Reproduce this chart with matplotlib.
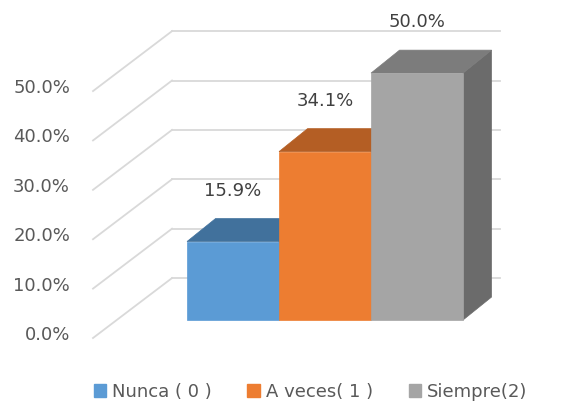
import matplotlib
matplotlib.use("Agg")
import matplotlib.pyplot as plt
from matplotlib.patches import Polygon, Patch

categories = ["Nunca ( 0 )", "A veces( 1 )", "Siempre(2)"]
values = [15.9, 34.1, 50.0]
value_labels = ["15.9%", "34.1%", "50.0%"]
tick_values = [0, 10, 20, 30, 40, 50]
tick_labels = ["0.0%", "10.0%", "20.0%", "30.0%", "40.0%", "50.0%"]

front_colors = ["#5B9BD5", "#ED7D31", "#A5A5A5"]
top_colors = ["#41719C", "#B45E24", "#7C7C7C"]
side_colors = ["#3F6E98", "#A9561F", "#6B6B6B"]

fig = plt.figure(figsize=(5.78, 4.03), dpi=100)
ax = fig.add_axes([0, 0, 1, 1])
ax.set_xlim(-2.533, 3.75)
ax.set_ylim(-16.8, 64.8)
ax.axis("off")

# 3D geometry (in data units)
dx, dy = 0.31, 4.65           # bar depth
front_off, back_off = -3.64, 8.5  # wall gridline offsets
x_front, x_back, x_right = -1.522, -0.663, 2.90

grid_c = "#D9D9D9"
for v in tick_values:
    ax.plot([x_front, x_back], [v + front_off, v + back_off], color=grid_c, lw=1.3, zorder=1)
    ax.plot([x_back, x_right], [v + back_off, v + back_off], color=grid_c, lw=1.3, zorder=1)

for i, v in enumerate(values):
    l, r = i - 0.5, i + 0.5
    side = Polygon([(r, 0), (r, v), (r + dx, v + dy), (r + dx, dy)], closed=True,
                   facecolor=side_colors[i], edgecolor=side_colors[i], lw=0.5, zorder=2 + i)
    top = Polygon([(l, v), (r, v), (r + dx, v + dy), (l + dx, v + dy)], closed=True,
                  facecolor=top_colors[i], edgecolor=top_colors[i], lw=0.5, zorder=2 + i)
    front = Polygon([(l, 0), (r, 0), (r, v), (l, v)], closed=True,
                    facecolor=front_colors[i], edgecolor=front_colors[i], lw=0.5, zorder=2 + i)
    for p in (side, top, front):
        ax.add_patch(p)
    ax.text(i, v + 10.3, value_labels[i], ha="center", va="center",
            fontsize=13, color="#404040", zorder=10)

for v, lab in zip(tick_values, tick_labels):
    ax.text(-1.772, v + front_off + 0.6, lab, ha="right", va="center",
            fontsize=13, color="#595959")

handles = [Patch(facecolor=c, edgecolor=c) for c in front_colors]
fig.legend(handles, categories, loc="center", bbox_to_anchor=(0.537, 11 / 403),
           ncol=3, frameon=False, fontsize=13, labelcolor="#595959",
           handlelength=0.7, handleheight=0.7, handletextpad=0.3,
           columnspacing=2.0, borderaxespad=0)

fig.savefig("out.png", dpi=100)
